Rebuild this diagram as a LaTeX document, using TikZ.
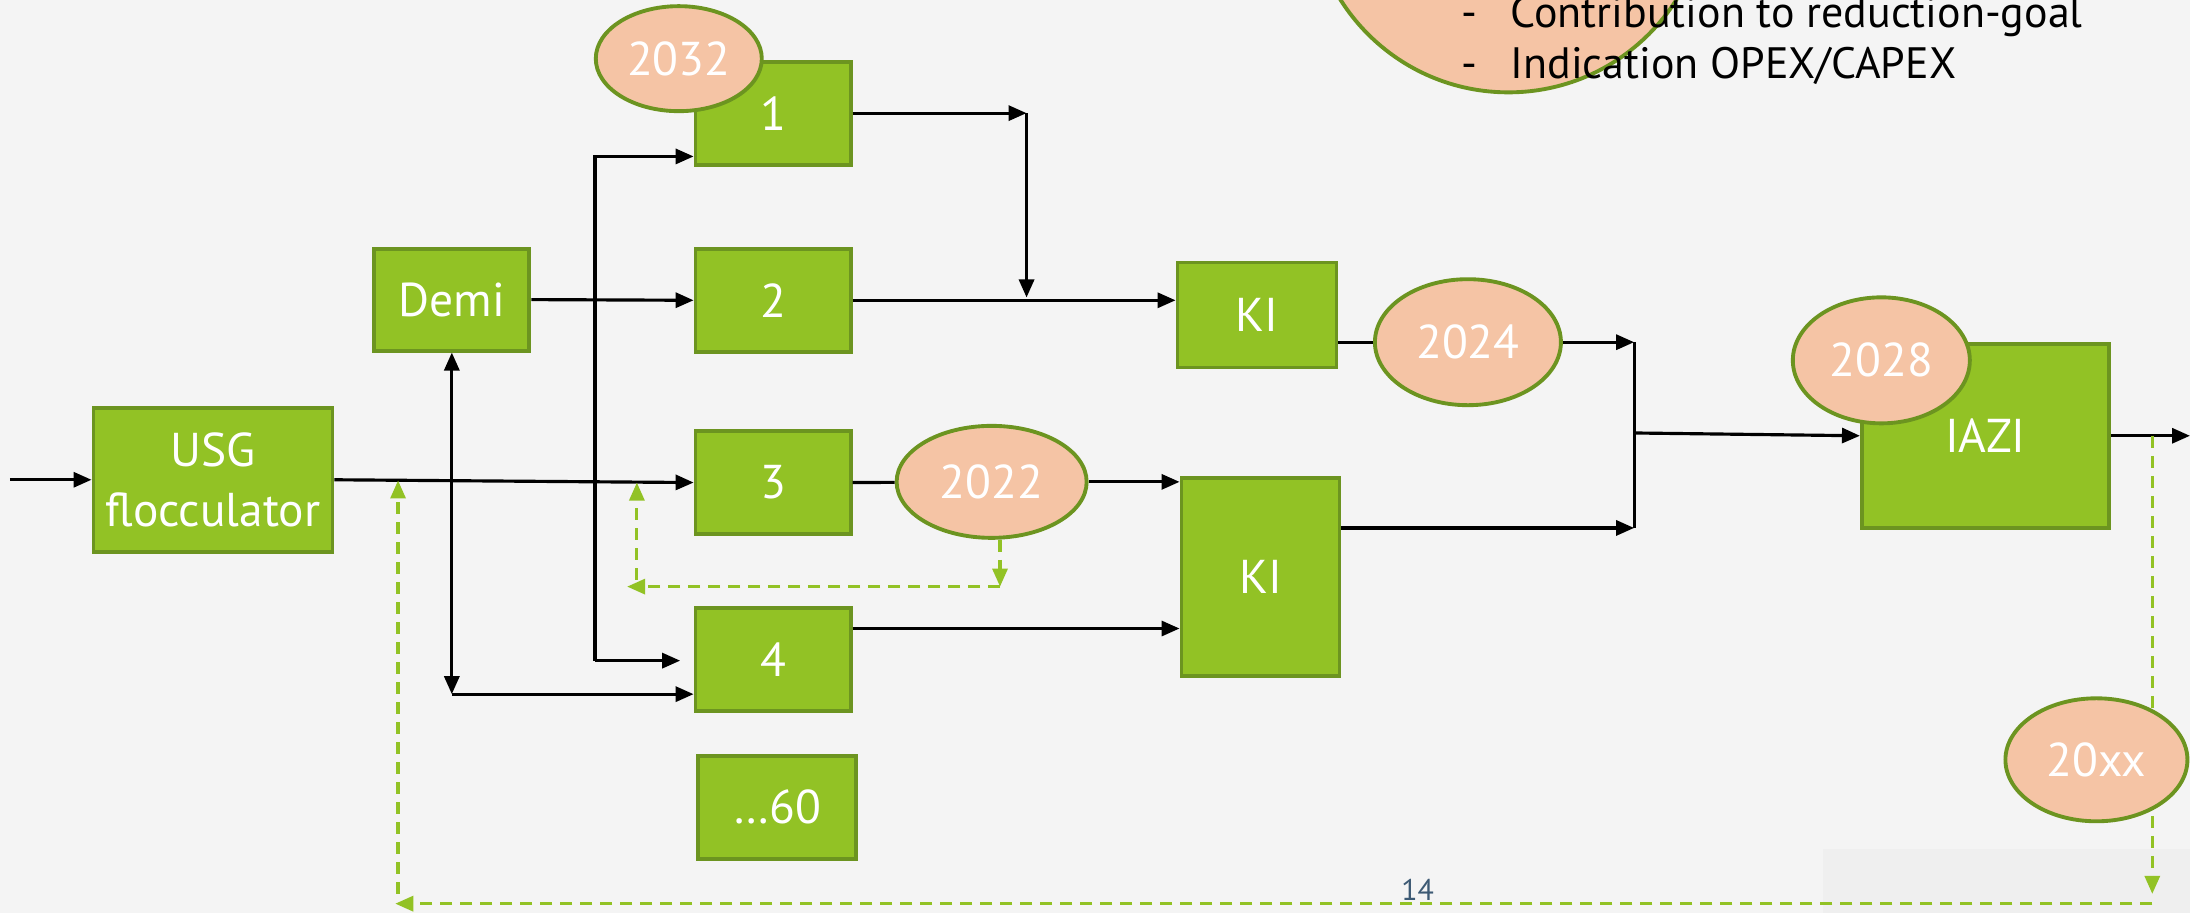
\documentclass[tikz,border=0pt]{standalone}
\usepackage{fontspec}
\setmainfont{PT Sans}
\usetikzlibrary{arrows.meta,shapes.geometric}

\definecolor{boxgreen}{HTML}{92C225}
\definecolor{rimgreen}{HTML}{6C9420}
\definecolor{peach}{HTML}{F5C4A5}
\definecolor{slidegrey}{HTML}{F4F4F4}
\definecolor{footgrey}{HTML}{EFEFEF}
\definecolor{pagegrey}{HTML}{3D5A74}

\begin{document}
\begin{tikzpicture}[x=0.13967mm, y=-0.13967mm,
    >={Triangle[length=1.8mm,width=1.5mm]},
    block/.style={draw=rimgreen, fill=boxgreen, line width=1.1pt, text=white, align=center, font=\fontsize{13.5}{17}\selectfont},
    year/.style={ellipse, draw=rimgreen, fill=peach, line width=1.1pt, text=white, font=\fontsize{13.5}{17}\selectfont},
    link/.style={black, line width=0.9pt},
    backflow/.style={boxgreen, line width=0.9pt, dash pattern=on 1.2mm off 0.8mm}]
    \tikzstyle{every node}+=[inner sep=0pt]
    \useasboundingbox (0,0) rectangle (1568,654);
    \fill [slidegrey] (0,0) rectangle (1568,654);
    \clip (0,0) rectangle (1568,654);
    \fill [footgrey] (1305,608) rectangle (1568,654);

    % goal bubble, top
    \node [year, circle, minimum size=39.7mm] (goal) at (1080,-76) {};
    \node [anchor=base west, font=\fontsize{12.5}{15}\selectfont] (goala) at (1046,20) {\makebox[4.9mm][l]{-}Contribution to reduction-goal};
    \node [anchor=base west, font=\fontsize{12.5}{15}\selectfont] (goalb) at (1046,56) {\makebox[4.9mm][l]{-}Indication OPEX/CAPEX};

    \node [block, minimum width=23.9mm, minimum height=14.4mm] (usg) at (152.5,343.5) {USG\\flocculator};
    \node [block, minimum width=15.5mm, minimum height=10.2mm] (demi) at (323.5,214.5) {Demi};
    \node [block, minimum width=15.5mm, minimum height=10.3mm] (b1) at (553.5,81) {1};
    \node [block, minimum width=15.5mm, minimum height=10.3mm] (b2) at (553.5,215) {2};
    \node [block, minimum width=15.5mm, minimum height=10.3mm] (b3) at (553.5,345.5) {3};
    \node [block, minimum width=15.5mm, minimum height=10.3mm] (b4) at (553.5,472) {4};
    \node [block, minimum width=15.8mm, minimum height=10.3mm] (b60) at (556.5,578) {…60};
    \node [block, minimum width=15.9mm, minimum height=10.5mm] (kit) at (900,225.5) {KI};
    \node [block, minimum width=15.8mm, minimum height=19.8mm] (kib) at (902.5,413) {KI};
    \node [block, minimum width=24.7mm, minimum height=18.4mm] (iazi) at (1421.5,312) {IAZI};

    \node [year, minimum width=16.6mm, minimum height=10.5mm] (y2032) at (486,42) {2032};
    \node [year, minimum width=18.6mm, minimum height=12.6mm] (y2024) at (1051,245) {2024};
    \node [year, minimum width=17.7mm, minimum height=12.6mm] (y2028) at (1347,258) {2028};
    \node [year, minimum width=19.0mm, minimum height=11.2mm] (y2022) at (710,345) {2022};

    \coordinate (in) at (7,343.5);
    \coordinate (t1) at (426,112);
    \coordinate (t4) at (426,473);
    \coordinate (e4) at (487,473);
    \coordinate (d4) at (323.5,497);
    \coordinate (k4) at (0,450);
    \coordinate (j1) at (735,81);
    \coordinate (j2) at (735,213);
    \coordinate (j3) at (1170,245);
    \coordinate (j4) at (1170,378);
    \coordinate (j5) at (1170,310);
    \coordinate (out) at (1568,312);

    \draw [link, ->] (in) -- (usg);
    \draw [link, ->] (usg.east) -- (b3.west);
    \draw [link, ->] (demi.east) -- (b2.west);
    \draw [link, ->] (t4) |- (b1.west |- t1);
    \draw [link, ->] (t4) -- (e4);
    \draw [link, <->] (demi.south) -- (d4);
    \draw [link, ->] (d4) -- (b4.west |- d4);
    \draw [link, ->] (b1.east) -- (j1);
    \draw [link, ->] (j1) -- (j2);
    \draw [link, ->] (b2.east) -- (kit.west |- b2.east);
    \draw [link] (kit.east |- y2024) -- (y2024);
    \draw [link, ->] (y2024) -- (j3);
    \draw [link] (j3) -- (j4);
    \draw [link, ->] (kib.east |- j4) -- (j4);
    \draw [link, ->] (j5) -- (iazi.west);
    \draw [link, ->] (iazi.east) -- (out);
    \draw [link] (b3.east) -- (y2022);
    \draw [link, ->] (y2022) -- (kib.west |- y2022);
    \draw [link, ->] (b4.east |- k4) -- (kib.west |- k4);

    % feedback, dashed
    \coordinate (r1) at (1541,312);
    \coordinate (r2) at (1541,640);
    \coordinate (r3) at (1541,647);
    \coordinate (r4) at (283,647);
    \coordinate (r5) at (285,640);
    \coordinate (r6) at (285,344);
    \coordinate (s1) at (716,420);
    \coordinate (s2) at (449,420);
    \coordinate (s3) at (456,415);
    \coordinate (s4) at (456,345.5);
    \draw [backflow, ->] (r1) -- (r2);
    \draw [backflow, ->] (r3) -- (r4);
    \draw [backflow, ->] (r5) -- (r6);
    \draw [backflow, ->] (y2022.south -| s1) -- (s1);
    \draw [backflow, ->] (s1) -- (s2);
    \draw [backflow, ->] (s3) -- (s4);

    \node [year, minimum width=18.2mm, minimum height=12.3mm] (y20xx) at (1501,544) {20xx};
    \node [font=\fontsize{8.5}{10}\selectfont, text=pagegrey] (page) at (1015,637) {14};
\end{tikzpicture}
\end{document}
